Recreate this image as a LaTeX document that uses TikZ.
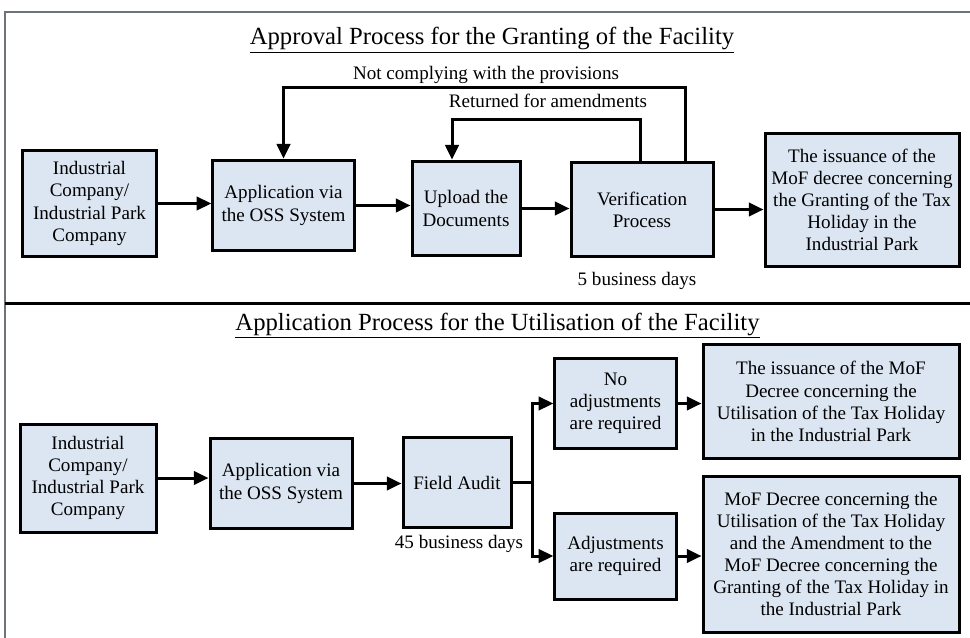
\documentclass[tikz,border=0pt]{standalone}
\usepackage{fontspec}
\setmainfont{Liberation Serif}
\usepackage{tikz}
\usetikzlibrary{arrows.meta, calc}
\definecolor{BoxBlue}{HTML}{DCE6F2}
\definecolor{FrameGray}{HTML}{6E737A}

\begin{document}
\begin{tikzpicture}[x=0.75pt, y=-0.75pt,
  every node/.style={font=\fontsize{14.3}{16.6}\selectfont, text=black},
  procbox/.style={draw=black, line width=2.25pt, fill=BoxBlue, align=center, inner sep=2pt},
  flow/.style={-{Triangle[length=11pt, width=10pt]}, line width=2.25pt},
  heading/.style={font=\fontsize{18.5}{22}\selectfont, anchor=base},
  note/.style={anchor=base}]
  \useasboundingbox (0,0) rectangle (970,638);
  % Frame and divider
  \draw[FrameGray, line width=1.5pt] (970,12) -- (5,12) -- (5,640);
  \draw[black, line width=2.25pt] (5,303) -- (970,303);
  % Approval process (top)
  \node[heading] (topTitle) at (492,45) {\underline{Approval Process for the Granting of the Facility}};
  \node[procbox, minimum width=101pt, minimum height=80pt] (compA) at (89.5,203.5)
    {Industrial\\Company/\\Industrial Park\\Company};
  \node[procbox, minimum width=106pt, minimum height=68pt] (ossA) at (283.5,205.5)
    {Application via\\the OSS System};
  \node[procbox, minimum width=81pt, minimum height=71pt] (upload) at (466,208.5)
    {Upload the\\Documents};
  \node[procbox, minimum width=106.5pt, minimum height=71pt] (verify) at (642,209.5)
    {Verification\\Process};
  \node[procbox, minimum width=145.5pt, minimum height=99pt] (grantDecree) at (862,200)
    {The issuance of the\\MoF decree concerning\\the Granting of the Tax\\Holiday in the\\Industrial Park};
  \draw[flow] (compA.east) -- (compA.east -| ossA.west);
  \draw[flow] (ossA.east) -- (ossA.east -| upload.west);
  \draw[flow] (upload.east) -- (upload.east -| verify.west);
  \draw[flow] (verify.east) -- (verify.east -| grantDecree.west);
  % Feedback loops
  \draw[flow] ($(verify.north east)+(-29,0)$) -- ++(0,-73) -| (ossA.north);
  \draw[flow] ($(verify.north)+(-2,0)$) -- ++(0,-41) -| ($(upload.north)+(-14,0)$);
  \node[note] (notComply) at (486,80) {Not complying with the provisions};
  \node[note] (returned) at (548,108) {Returned for amendments};
  \node[note] (days5) at (637,285) {5 business days};
  % Utilisation process (bottom)
  \node[heading] (botTitle) at (497.5,330) {\underline{Application Process for the Utilisation of the Facility}};
  \node[procbox, minimum width=102pt, minimum height=81pt] (compB) at (88,478)
    {Industrial\\Company/\\Industrial Park\\Company};
  \node[procbox, minimum width=106.5pt, minimum height=68pt] (ossB) at (281,483.5)
    {Application via\\the OSS System};
  \node[procbox, minimum width=81pt, minimum height=67pt] (audit) at (457,482.5)
    {Field Audit};
  \node[procbox, minimum width=91pt, minimum height=68pt] (noAdj) at (615.5,403.5)
    {No\\adjustments\\are required};
  \node[procbox, minimum width=91pt, minimum height=64.5pt] (adj) at (615.5,556)
    {Adjustments\\are required};
  \node[procbox, minimum width=192pt, minimum height=85pt] (utilDecree) at (831,401.5)
    {The issuance of the MoF\\Decree concerning the\\Utilisation of the Tax Holiday\\in the Industrial Park};
  \node[procbox, minimum width=192pt, minimum height=117pt] (amendDecree) at (831,554)
    {MoF Decree concerning the\\Utilisation of the Tax Holiday\\and the Amendment to the\\MoF Decree concerning the\\Granting of the Tax Holiday in\\the Industrial Park};
  \node[note] (days45) at (459,548) {45 business days};
  \draw[flow] (compB.east) -- (compB.east -| ossB.west);
  \draw[flow] (ossB.east) -- (ossB.east -| audit.west);
  \coordinate (split) at ($(audit.east)+(20,0)$);
  \draw[line width=2.25pt] (audit.east) -- (split);
  \draw[flow] (split) |- (noAdj.west);
  \draw[flow] (split) |- (adj.west);
  \draw[flow] (noAdj.east) -- (noAdj.east -| utilDecree.west);
  \draw[flow] (adj.east) -- (adj.east -| amendDecree.west);
\end{tikzpicture}
\end{document}
